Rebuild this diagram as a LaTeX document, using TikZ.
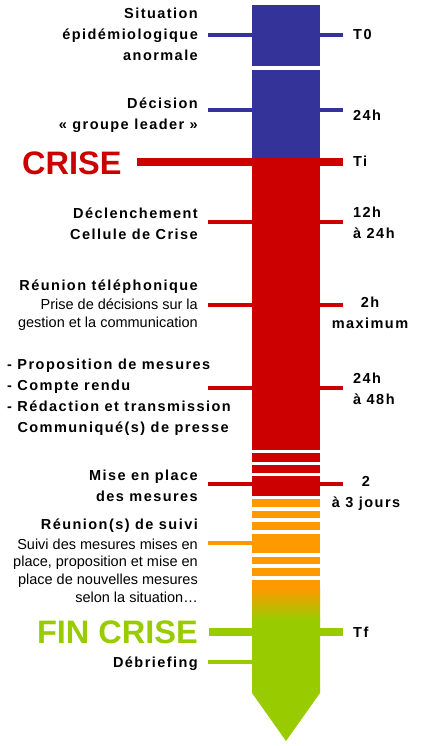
\documentclass[tikz,border=0pt]{standalone}
\usepackage{fontspec}
\setmainfont{Liberation Sans}
\newfontfamily\lblfont[LetterSpace=10]{Liberation Sans}
\definecolor{cblue}{HTML}{333399}
\definecolor{cred}{HTML}{CC0000}
\definecolor{corange}{HTML}{FF9900}
\definecolor{cgreen}{HTML}{99CC00}
\begin{document}
\begin{tikzpicture}[x=1pt,y=-1pt,
  tick/.style={line width=3.5pt},
  bigtick/.style={line width=7.5pt},
  lbl/.style={inner sep=0pt,font=\lblfont\bfseries\fontsize{14.5}{21}\selectfont},
  desc/.style={inner sep=0pt,font=\fontsize{14.5}{17.7}\selectfont},
  huge/.style={inner sep=0pt,font=\bfseries\fontsize{32.5}{36}\selectfont}]
\useasboundingbox[fill=white] (0,0) rectangle (420,746);
% ---- bar ----
\fill[cblue] (252,5) rectangle (320,66);
\fill[cblue] (252,70) rectangle (320,158);
\fill[cred] (252,157) rectangle (320,450);
\foreach \a/\b in {453/462,465/473,476/496}
  \fill[cred] (252,\a) rectangle (320,\b);
\foreach \a/\b in {499/507,511/518,522/530,534/553,557/564,568/576,580/589}
  \fill[corange] (252,\a) rectangle (320,\b);
\shade[top color=corange,bottom color=cgreen] (252,588) rectangle (320,620);
\fill[cgreen] (252,619) -- (320,619) -- (320,693) -- (286,741) -- (252,693) -- cycle;
% ---- ticks ----
\draw[tick,cblue] (208,35) -- (252,35) (320,35) -- (343,35);
\draw[tick,cblue] (208,110) -- (252,110) (320,110) -- (343,110);
\draw[bigtick,cred] (137,162) -- (343,162);
\foreach \y in {222,305,388,484}
  \draw[tick,cred] (208,\y) -- (252,\y) (320,\y) -- (343,\y);
\draw[tick,corange] (208,543) -- (252,543);
\draw[bigtick,cgreen] (209,632) -- (343,632);
\draw[tick,cgreen] (208,662) -- (252,662);
% ---- left labels ----
\node[lbl,anchor=east,align=right] (sit) at (198,34) {Situation\\épidémiologique\\anormale};
\node[lbl,anchor=east,align=right] (dec) at (198,115.5) {Décision\\« groupe leader »};
\node[huge,text=cred,anchor=west] (crise) at (22,163) {CRISE};
\node[lbl,anchor=east,align=right] (decl) at (198,223.5) {Déclenchement\\Cellule de Crise};
\node[lbl,anchor=east] (reun) at (198,287) {Réunion téléphonique};
\node[desc,anchor=east,align=right] (reund) at (198,314.5) {Prise de décisions sur la\\gestion et la communication};
\node[lbl,anchor=west,align=left] (prop) at (7,397.5) {- Proposition de mesures\\- Compte rendu\\- Rédaction et transmission\\\phantom{- }Communiqué(s) de presse};
\node[lbl,anchor=east,align=right] (mise) at (198,485.5) {Mise en place\\des mesures};
\node[lbl,anchor=east] (suivi) at (198,526) {Réunion(s) de suivi};
\node[desc,anchor=east,align=right] (suivid) at (198,570.5) {Suivi des mesures mises en\\place, proposition et mise en\\place de nouvelles mesures\\selon la situation…};
\node[huge,text=cgreen,anchor=east] (fin) at (198,632) {FIN CRISE};
\node[lbl,anchor=east] (debr) at (198,664) {Débriefing};
% ---- right labels ----
\node[lbl,anchor=west] (t0) at (353,35) {T0};
\node[lbl,anchor=west] (h24) at (353,115) {24h};
\node[lbl,anchor=west] (ti) at (353,161) {Ti};
\node[lbl,anchor=west,align=left] (h12) at (353,222.5) {12h\\à 24h};
\node[lbl,align=center] (h2) at (370,313) {2h\\maximum};
\node[lbl,anchor=west,align=left] (h48) at (353,389) {24h\\à 48h};
\node[lbl,align=center] (j3) at (366,493) {2\\à 3 jours};
\node[lbl,anchor=west] (tf) at (353,632) {Tf};
\end{tikzpicture}
\end{document}
